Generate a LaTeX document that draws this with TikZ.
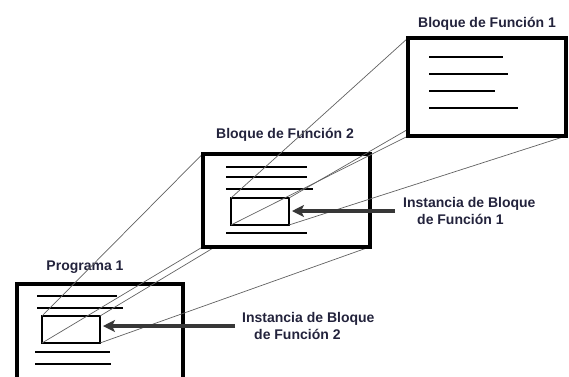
\documentclass[tikz,border=0pt]{standalone}
\usepackage{fontspec}
\setmainfont{Liberation Sans}
\usetikzlibrary{arrows.meta}
\definecolor{txt}{RGB}{35,35,60}
\definecolor{arrc}{RGB}{55,55,55}
\pgfdeclarelayer{lzero}
\pgfdeclarelayer{lone}
\pgfdeclarelayer{ltwo}
\pgfdeclarelayer{lthree}
\pgfsetlayers{lzero,lone,ltwo,lthree,main}
\begin{document}
\begin{tikzpicture}[x=1pt,y=-1pt,
  box/.style={draw=black, line width=4pt, fill=white, inner sep=0pt, outer sep=0pt, anchor=north west},
  ibox/.style={draw=black, line width=2pt, inner sep=0pt, outer sep=0pt, anchor=north west},
  txtline/.style={line width=2.6pt},
  proj/.style={line width=0.7pt, draw=black!62},
  arr/.style={line width=4pt, draw=arrc, -{Stealth[length=12pt,width=12pt,inset=3pt]}},
  lbl/.style={font=\fontsize{14}{17}\selectfont\bfseries, text=txt, inner sep=0pt},
]
\useasboundingbox (0,0) rectangle (569,376);

% Function block 1 (top)
\node[box, minimum width=158pt, minimum height=98pt] (fb1) at (408,38) {};
\draw[txtline] (429,57) -- (503,57);
\draw[txtline] (429,74) -- (508,74);
\draw[txtline] (429,91) -- (495,91);
\draw[txtline] (429,108) -- (518,108);

% Function block 2
\begin{pgfonlayer}{ltwo}
\node[box, minimum width=167pt, minimum height=93pt] (fb2) at (202.5,154) {};
\draw[txtline] (226,167) -- (307,167);
\draw[txtline] (226,177) -- (307,177);
\draw[txtline] (226,189) -- (313,189);
\draw[txtline] (226,233) -- (307,233);
\node[ibox, minimum width=58pt, minimum height=27pt] (in2) at (231,198) {};
\end{pgfonlayer}

% Programa 1 and titles
\begin{pgfonlayer}{lzero}
\node[lbl, anchor=base] (tfb1) at (487,27) {Bloque de Función 1};
\node[lbl, anchor=base] (tfb2) at (285,138) {Bloque de Función 2};
\node[lbl, anchor=base] (tp1) at (85,270) {Programa 1};
\node[box, minimum width=166pt, minimum height=95pt] (p1) at (17,284) {};
\draw[txtline] (37,296) -- (117,296);
\draw[txtline] (37,308) -- (123,308);
\draw[txtline] (35,352) -- (110,352);
\draw[txtline] (35,364) -- (111,364);
\node[ibox, minimum width=58pt, minimum height=27pt] (in1) at (42,316) {};
\end{pgfonlayer}

% projection lines FB1 -> instance in FB2
\begin{pgfonlayer}{lthree}
\draw[proj] (fb1.north west) -- (in2.north west);
\draw[proj] (fb1.north east) -- (in2.north east);
\draw[proj] (fb1.south west) -- (in2.south west);
\draw[proj] (fb1.south east) -- (in2.south east);
\end{pgfonlayer}

% projection lines FB2 -> instance in Programa 1
\begin{pgfonlayer}{lone}
\draw[proj] (fb2.north west) -- (in1.north west);
\draw[proj] (fb2.north east) -- (in1.north east);
\draw[proj] (fb2.south west) -- (in1.south west);
\draw[proj] (fb2.south east) -- (in1.south east);
\end{pgfonlayer}

% labels and arrows
\node[lbl, anchor=west, align=left] (l1) at (403,211) {Instancia de Bloque\\\hspace*{14pt}de Función 1};
\node[lbl, anchor=west, align=left] (l2) at (242,326) {Instancia de Bloque\\\hspace*{12pt}de Función 2};
\draw[arr, shorten <=8pt, shorten >=3pt] (l1.west) -- (l1.west -| in2.east);
\draw[arr, shorten <=7pt, shorten >=3pt] (l2.west) -- (l2.west -| in1.east);
\end{tikzpicture}
\end{document}
